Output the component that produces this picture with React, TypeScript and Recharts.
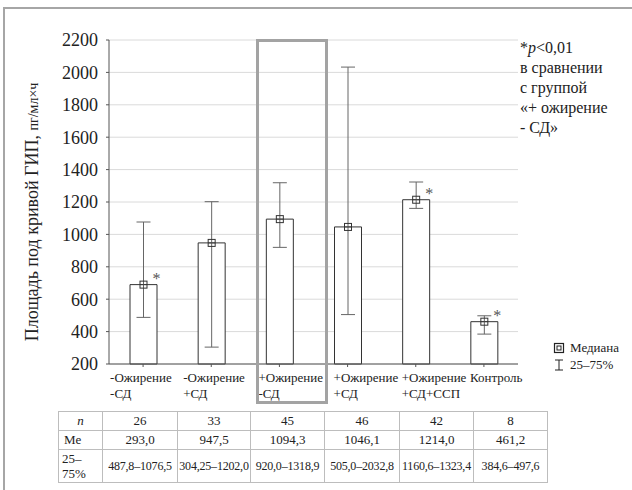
import React from 'react';
import { ComposedChart, Bar, ErrorBar, XAxis, YAxis, CartesianGrid, LabelList } from 'recharts';

const groups = [
  '-Ожирение\n-СД',
  '-Ожирение\n+СД',
  '+Ожирение\n-СД',
  '+Ожирение\n+СД',
  '+Ожирение\n+СД+ССП',
  'Контроль',
];
// bar heights as drawn (first bar is drawn near 690 although the table says 293,0)
const barMedian = [690, 947.5, 1094.3, 1046.1, 1214.0, 461.2];
const tableMedian = [293.0, 947.5, 1094.3, 1046.1, 1214.0, 461.2];
const q25 = [487.8, 304.25, 920.0, 505.0, 1160.6, 384.6];
const q75 = [1076.5, 1202.0, 1318.9, 2032.8, 1323.4, 497.6];
const nValues = [26, 33, 45, 46, 42, 8];
const significant = [true, false, false, false, true, true];
const yTicks = [200, 400, 600, 800, 1000, 1200, 1400, 1600, 1800, 2000, 2200];

const data = groups.map((g, i) => ({
  name: g,
  me: barMedian[i],
  err: [barMedian[i] - q25[i], q75[i] - barMedian[i]],
  sig: significant[i],
}));

const fmt = (v: number) => (v % 1 === 0 ? v.toFixed(1) : String(v)).replace('.', ',');

const FONT = "'Liberation Serif', 'DejaVu Serif', serif";

// left edge of each category label relative to the category centre
const labelShift = [-33, -28, -21, -14, -14, -14];

const CategoryTick = (props: any) => {
  const { x, y, payload, index } = props;
  const lines = String(payload.value).split('\n');
  return (
    <g>
      {lines.map((l: string, k: number) => (
        <text
          key={k}
          x={x + labelShift[index]}
          y={y + 13 + k * 16}
          textAnchor="start"
          style={{ fontFamily: FONT }}
          fontSize={13}
          fill="#222"
        >
          {l}
        </text>
      ))}
    </g>
  );
};

const MedianMark = (props: any) => {
  const { x, y, width, index } = props;
  const cx = x + width / 2;
  return (
    <g>
      <rect x={cx - 3.5} y={y - 3.5} width={7} height={7} fill="none" stroke="#333" strokeWidth={1} />
      <line x1={cx - 3.5} y1={y} x2={cx + 3.5} y2={y} stroke="#333" strokeWidth={0.8} />
      {data[index].sig && (
        <text x={cx + 13} y={y - 1} textAnchor="middle" style={{ fontFamily: FONT }} fontSize={16} fill="#555">
          *
        </text>
      )}
    </g>
  );
};

const cellStyle: React.CSSProperties = {
  border: '1px solid #bdbdbd',
  padding: 0,
  textAlign: 'center',
  fontSize: 13,
  color: '#222',
};

export default function App() {
  return (
    <div
      style={{
        position: 'absolute',
        left: 0,
        top: 0,
        width: 632,
        height: 490,
        background: '#fff',
        fontFamily: FONT,
        overflow: 'hidden',
      }}
    >
      {/* frame */}
      <div style={{ position: 'absolute', left: 3, top: 7, width: 629, height: 2, background: '#a6a6a6' }} />
      <div style={{ position: 'absolute', left: 3, top: 7, width: 2, height: 483, background: '#a6a6a6' }} />

      <div style={{ position: 'absolute', left: 0, top: 0 }}>
        <ComposedChart
          width={632}
          height={490}
          data={data}
          margin={{ top: 40, right: 114, bottom: 86, left: 49 }}
          barCategoryGap={0}
        >
          <CartesianGrid vertical={false} stroke="#dadada" />
          <XAxis
            dataKey="name"
            interval={0}
            height={40}
            tick={<CategoryTick />}
            tickLine={{ stroke: '#555' }}
            tickSize={3}
            axisLine={{ stroke: '#555' }}
          />
          <YAxis
            width={60}
            domain={[200, 2200]}
            ticks={yTicks}
            interval={0}
            tickSize={3}
            tickLine={{ stroke: '#555' }}
            axisLine={{ stroke: '#555' }}
            tick={{ fontSize: 18, fill: '#222', style: { fontFamily: FONT } }}
            tickMargin={8}
          />
          <Bar dataKey="me" barSize={27} fill="#fff" stroke="#333" strokeWidth={1} isAnimationActive={false}>
            <ErrorBar dataKey="err" width={7} stroke="#666" strokeWidth={1} direction="y" />
            <LabelList dataKey="me" content={<MedianMark />} />
          </Bar>
        </ComposedChart>
      </div>

      {/* y axis title */}
      <svg style={{ position: 'absolute', left: 0, top: 0 }} width={80} height={420}>
        <text
          transform="translate(38, 212) rotate(-90)"
          textAnchor="middle"
          style={{ fontFamily: FONT }}
          fontSize={18}
          fill="#222"
        >
          Площадь под кривой ГИП, <tspan fontSize={14}>пг/мл×ч</tspan>
        </text>
      </svg>

      {/* highlighted group */}
      <div
        style={{
          position: 'absolute',
          left: 256,
          top: 39,
          width: 72,
          height: 365,
          border: '3px solid #a3a3a3',
          boxSizing: 'border-box',
        }}
      />

      {/* note */}
      <div
        style={{
          position: 'absolute',
          left: 520,
          top: 38,
          fontSize: 16,
          lineHeight: '20px',
          color: '#222',
          whiteSpace: 'nowrap',
        }}
      >
        *<i>p</i>&lt;0,01
        <br />в сравнении
        <br />с группой
        <br />«+ ожирение
        <br />- СД»
      </div>

      {/* legend */}
      <div style={{ position: 'absolute', left: 553, top: 339, fontSize: 13, lineHeight: '17px', color: '#222' }}>
        <div style={{ display: 'flex', alignItems: 'center' }}>
          <svg width={12} height={12} style={{ marginRight: 5 }}>
            <rect x={1.5} y={1.5} width={9} height={9} fill="none" stroke="#222" strokeWidth={1.2} />
            <rect x={4} y={4} width={4} height={4} fill="none" stroke="#222" strokeWidth={1} />
          </svg>
          Медиана
        </div>
        <div style={{ display: 'flex', alignItems: 'center' }}>
          <svg width={12} height={12} style={{ marginRight: 5 }}>
            <line x1={2} y1={1} x2={10} y2={1} stroke="#222" />
            <line x1={6} y1={1} x2={6} y2={11} stroke="#222" />
            <line x1={2} y1={11} x2={10} y2={11} stroke="#222" />
          </svg>
          25–75%
        </div>
      </div>

      {/* table */}
      <table
        style={{
          position: 'absolute',
          left: 58,
          top: 411,
          borderCollapse: 'collapse',
          tableLayout: 'fixed',
          width: 489,
        }}
      >
        <colgroup>
          <col style={{ width: 44 }} />
          <col style={{ width: 75 }} />
          <col style={{ width: 73 }} />
          <col style={{ width: 74 }} />
          <col style={{ width: 75 }} />
          <col style={{ width: 74 }} />
          <col style={{ width: 74 }} />
        </colgroup>
        <tbody>
          <tr style={{ height: 19 }}>
            <td style={cellStyle}>
              <i>n</i>
            </td>
            {nValues.map((v, i) => (
              <td key={i} style={cellStyle}>
                {v}
              </td>
            ))}
          </tr>
          <tr style={{ height: 19 }}>
            <td style={{ ...cellStyle, textAlign: 'left', paddingLeft: 5 }}>Me</td>
            {tableMedian.map((v, i) => (
              <td key={i} style={cellStyle}>
                {fmt(v)}
              </td>
            ))}
          </tr>
          <tr style={{ height: 33 }}>
            <td style={{ ...cellStyle, textAlign: 'left', paddingLeft: 3, lineHeight: '15px' }}>
              25–
              <br />
              75%
            </td>
            {q25.map((v, i) => (
              <td key={i} style={{ ...cellStyle, fontSize: 12, whiteSpace: 'nowrap', letterSpacing: -0.2 }}>
                {fmt(v)}–{fmt(q75[i])}
              </td>
            ))}
          </tr>
        </tbody>
      </table>
    </div>
  );
}
